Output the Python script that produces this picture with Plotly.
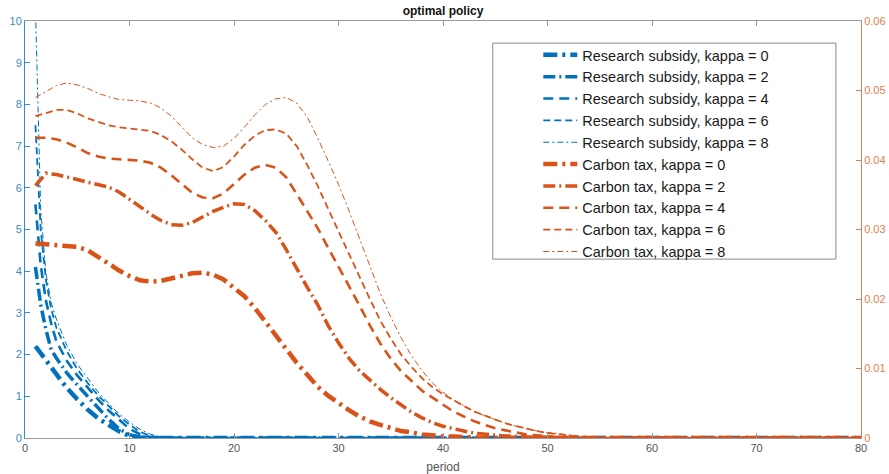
import plotly.graph_objects as go

# ---------------- data ----------------
sub_period = [1, 1.25, 1.5, 2, 2.5, 3, 4, 5, 6, 7, 8, 9, 10, 11, 12, 13, 14, 15, 80]
sub_k0 = [2.2, 2.12, 2.04, 1.86, 1.68, 1.52, 1.2, 0.93, 0.68, 0.47, 0.3, 0.16, 0.05, 0.01, 0, 0, 0, 0, 0]
sub_k2 = [4.1, 3.6, 3.2, 2.6, 2.12, 1.92, 1.56, 1.27, 1.0, 0.74, 0.45, 0.22, 0.08, 0.02, 0.0, 0, 0, 0, 0]
sub_k4 = [5.6, 4.8, 4.15, 3.3, 2.75, 2.32, 1.85, 1.5, 1.2, 0.92, 0.66, 0.43, 0.22, 0.09, 0.02, 0, 0, 0, 0]
sub_k6 = [7.5, 6.1, 5.0, 3.8, 3.1, 2.65, 2.08, 1.65, 1.32, 1.02, 0.76, 0.52, 0.32, 0.15, 0.05, 0.01, 0, 0, 0]
sub_k8 = [10.3, 7.6, 5.5, 3.95, 3.25, 2.85, 2.22, 1.77, 1.42, 1.1, 0.83, 0.58, 0.38, 0.21, 0.09, 0.03, 0.01, 0, 0]

ct_period = list(range(1, 56)) + [80]
ct_k0 = [.0280, .0279, .0278, .0277, .0275, .0270, .0261, .0251, .0241, .0233,
         .0227, .0225, .0226, .0230, .0234, .0237, .0238, .0235, .0228, .0217,
         .0204, .0187, .0168, .0149, .0128, .0108, .0090, .0074, .0061, .0050,
         .0040, .0031, .0024, .0019, .0014, .0010, .0008, .0005, .0004, .0002,
         .0002, .0001, .0001, 0, 0, 0, 0, 0, 0, 0,
         0, 0, 0, 0, 0, 0]
ct_k2 = [.0363, .0381, .0379, .0376, .0372, .0368, .0365, .0361, .0354, .0344,
         .0333, .0322, .0313, .0307, .0306, .0310, .0318, .0326, .0332, .0337,
         .0336, .0327, .0313, .0296, .0271, .0243, .0217, .0192, .0162, .0137,
         .0115, .0097, .0083, .0070, .0058, .0047, .0037, .0029, .0022, .0017,
         .0013, .0010, .0007, .0005, .0004, .0003, .0002, .0001, .0001, .0001,
         0, 0, 0, 0, 0, 0]
ct_k4 = [.0432, .0432, .0430, .0425, .0418, .0410, .0405, .0402, .0401, .0400,
         .0399, .0396, .0389, .0378, .0365, .0353, .0346, .0345, .0352, .0365,
         .0379, .0389, .0393, .0389, .0375, .0351, .0327, .0302, .0274, .0247,
         .0219, .0191, .0162, .0136, .0114, .0096, .0082, .0068, .0058, .0048,
         .0038, .0031, .0024, .0019, .0014, .0011, .0008, .0005, .0004, .0002,
         .0001, 0, 0, 0, 0, 0]
ct_k6 = [.0463, .0468, .0472, .0472, .0467, .0460, .0455, .0450, .0447, .0445,
         .0444, .0442, .0436, .0427, .0415, .0401, .0389, .0384, .0390, .0405,
         .0422, .0435, .0443, .0444, .0438, .0420, .0393, .0363, .0330, .0297,
         .0264, .0232, .0200, .0169, .0143, .0120, .0102, .0086, .0073, .0063,
         .0054, .0046, .0038, .0032, .0026, .0021, .0017, .0013, .0010, .0007,
         .0005, .0003, .0002, .0001, 0, 0]
ct_k8 = [.0490, .0498, .0507, .0511, .0508, .0503, .0496, .0491, .0487, .0486,
         .0485, .0482, .0475, .0463, .0447, .0432, .0422, .0418, .0420, .0431,
         .0447, .0465, .0480, .0488, .0490, .0482, .0462, .0432, .0399, .0365,
         .0327, .0287, .0246, .0208, .0174, .0144, .0118, .0097, .0079, .0066,
         .0055, .0046, .0038, .0032, .0026, .0021, .0017, .0013, .0010, .0008,
         .0006, .0004, .0003, .0002, .0001, 0]

kappas = [0, 2, 4, 6, 8]
sub_series = [sub_k0, sub_k2, sub_k4, sub_k6, sub_k8]
ct_series = [ct_k0, ct_k2, ct_k4, ct_k6, ct_k8]

x_ticks = [0, 10, 20, 30, 40, 50, 60, 70, 80]
y_ticks = [0, 1, 2, 3, 4, 5, 6, 7, 8, 9, 10]
y2_ticks = [0, 0.01, 0.02, 0.03, 0.04, 0.05, 0.06]
y2_labels = ["0", "0.01", "0.02", "0.03", "0.04", "0.05", "0.06"]

# ---------------- styles ----------------
BLUE = "#0072BD"
ORANGE = "#D95319"
BLUE_AX = "#3a8cc8"
ORANGE_AX = "#e0804f"
widths = [4.5, 3.5, 2.6, 1.8, 1.0]
dashes = ["14px,5px,3px,5px", "12px,4px,2px,4px", "10px,6px", "7px,4px", "6px,3px,2px,3px"]
FONT = "Liberation Sans, Arial, Helvetica, sans-serif"

fig = go.Figure()
for k, ys, w, d in zip(kappas, sub_series, widths, dashes):
    fig.add_trace(go.Scatter(
        x=sub_period, y=ys, mode="lines", yaxis="y",
        name=f"Research subsidy, kappa = {k}",
        line=dict(color=BLUE, width=w, dash=d),
    ))
for k, ys, w, d in zip(kappas, ct_series, widths, dashes):
    fig.add_trace(go.Scatter(
        x=ct_period, y=ys, mode="lines", yaxis="y2",
        name=f"Carbon tax, kappa = {k}",
        line=dict(color=ORANGE, width=w, dash=d),
    ))

fig.update_layout(
    width=889, height=474,
    margin=dict(l=25, r=28, t=21, b=36, autoexpand=False),
    paper_bgcolor="white", plot_bgcolor="white",
    font=dict(family=FONT, size=11, color="#4d4d4d"),
    title=dict(text="<b>optimal policy</b>", x=0.5, xanchor="center",
               xref="paper", y=0.978, yanchor="middle", yref="container",
               automargin=False,
               font=dict(family=FONT, size=12, color="#111")),
    showlegend=True,
    legend=dict(x=0.614, xanchor="left", y=0.957, yanchor="top",
                bgcolor="rgba(0,0,0,0)", borderwidth=0,
                font=dict(family=FONT, size=14.5, color="#1a1a1a"),
                tracegroupgap=0, itemwidth=34),
    xaxis=dict(range=[0, 80], tickvals=x_ticks, ticks="inside", ticklen=5,
               showline=True, linecolor="#9a9a9a", linewidth=1, mirror="ticks",
               tickcolor="#9a9a9a", showgrid=False, zeroline=False, automargin=False,
               tickfont=dict(family=FONT, size=11, color="#555"),
               title=dict(text="period", standoff=10,
                          font=dict(family=FONT, size=12, color="#555"))),
    yaxis=dict(range=[0, 10], tickvals=y_ticks, ticks="inside", ticklen=5,
               showline=True, linecolor=BLUE_AX, linewidth=1, tickcolor=BLUE_AX,
               showgrid=False, zeroline=False, automargin=False,
               tickfont=dict(family=FONT, size=11, color=BLUE_AX)),
    yaxis2=dict(range=[0, 0.06], tickvals=y2_ticks, ticktext=y2_labels,
                overlaying="y", side="right", ticks="inside", ticklen=5,
                showline=True, linecolor=ORANGE_AX, linewidth=1, tickcolor=ORANGE_AX,
                showgrid=False, zeroline=False, automargin=False,
                tickfont=dict(family=FONT, size=11, color=ORANGE_AX)),
    shapes=[
        dict(type="rect", xref="paper", yref="paper",
             x0=0.5595, x1=0.97, y0=0.429, y1=0.947,
             line=dict(color="#8a8a8a", width=1), fillcolor="white", layer="above"),
    ],
)

fig.write_html("out.html",
               config={"displayModeBar": False},
               post_script="document.body.style.margin='0';document.body.style.overflow='hidden';")
